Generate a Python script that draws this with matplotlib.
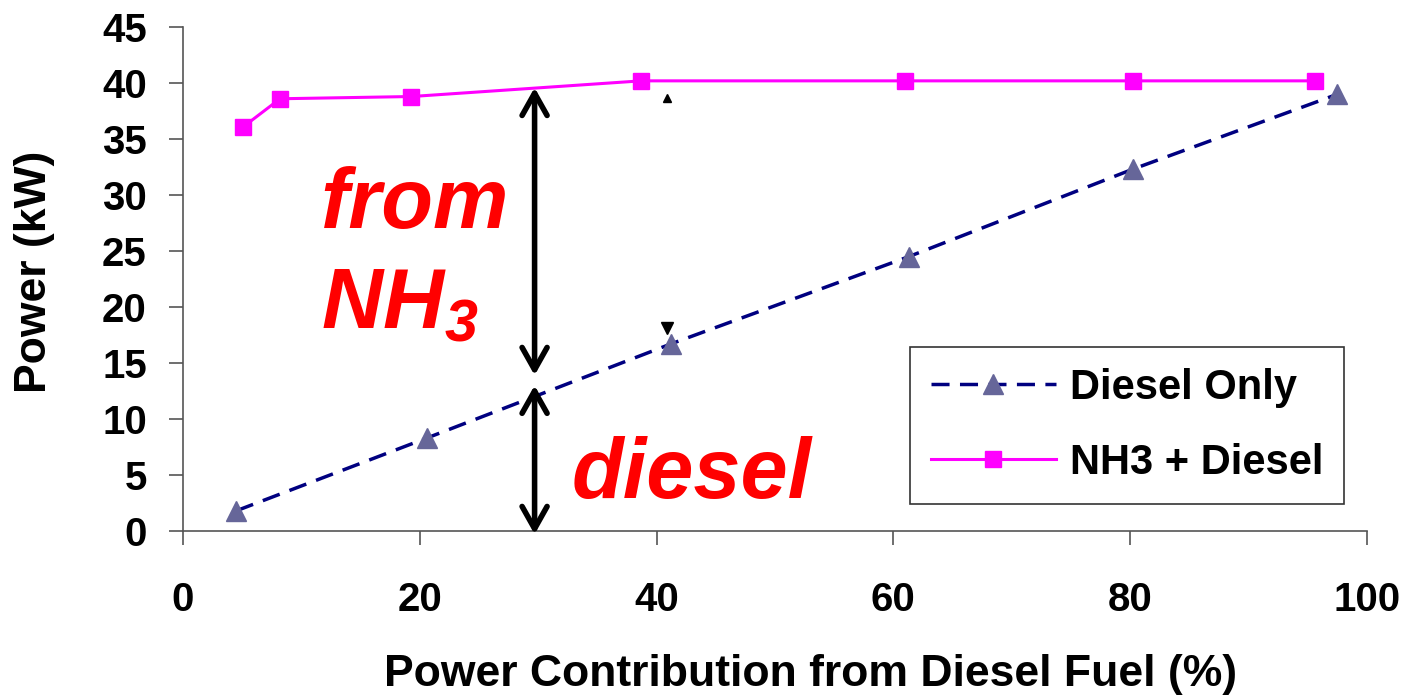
import matplotlib
matplotlib.use('Agg')
import matplotlib.pyplot as plt
from matplotlib import font_manager

# Diesel-only engine: power vs. diesel share
diesel_x = [4.5, 20.6, 41.2, 61.3, 80.2, 97.5]
diesel_y = [1.8, 8.3, 16.7, 24.5, 32.3, 39.0]

# Ammonia + diesel dual fuel
nh3_x = [5.1, 8.2, 19.3, 38.7, 61.0, 80.2, 95.6]
nh3_y = [36.1, 38.6, 38.8, 40.2, 40.2, 40.2, 40.2]

# stray arrow tips left over in the chart
tip_x = [40.9, 40.9]
tip_y = [38.7, 18.1]

# double arrows at 30 % diesel share: (x, y_top, y_bottom)
arrow_x = 29.7
nh3_span = (39.6, 13.9)
diesel_span = (13.0, -0.3)

xticks = [0, 20, 40, 60, 80, 100]
yticks = [0, 5, 10, 15, 20, 25, 30, 35, 40, 45]

names = {f.name for f in font_manager.fontManager.ttflist}
FONT = 'Liberation Sans' if 'Liberation Sans' in names else 'DejaVu Sans'
plt.rcParams['font.family'] = FONT
plt.rcParams['mathtext.fontset'] = 'custom'
plt.rcParams['mathtext.rm'] = FONT + ':bold:italic'
plt.rcParams['mathtext.it'] = FONT + ':bold:italic'

fig = plt.figure(figsize=(14.04, 6.95), dpi=100)
ax = fig.add_axes([0.1303, 0.236, 0.8433, 0.725])

ax.plot(diesel_x, diesel_y, color='#000080', lw=2.5, dashes=(5.2, 3.0),
        marker='^', markersize=14, markerfacecolor='#666699',
        markeredgecolor='#666699', label='Diesel Only', zorder=3)
ax.plot(nh3_x, nh3_y, color='#FF00FF', lw=2.2, marker='s', markersize=12,
        markerfacecolor='#FF00FF', markeredgecolor='#FF00FF',
        label='NH3 + Diesel', zorder=3)

ax.plot(tip_x[:1], tip_y[:1], '^', color='black', markersize=6)
ax.plot(tip_x[1:], tip_y[1:], 'v', color='black', markersize=9)

for top, bot in (nh3_span, diesel_span):
    ax.annotate('', xy=(arrow_x, top), xytext=(arrow_x, bot),
                arrowprops=dict(arrowstyle='<->,head_length=0.8,head_width=0.45',
                                lw=4, color='black', mutation_scale=20,
                                shrinkA=0, shrinkB=0),
                annotation_clip=False, zorder=4)

red = dict(color='#FF0000', fontsize=61, fontweight='bold', style='italic',
           ha='left', va='baseline')
ax.text(11.65, 27.1, 'from', **red)
ax.text(11.65, 18.1, r'$\mathrm{NH}_3$', **red)
ax.text(32.85, 2.96, 'diesel', **red)

ax.set_xlim(0, 100)
ax.set_ylim(0, 45)
ax.set_xticks(xticks)
ax.set_yticks(yticks)
ax.spines['top'].set_visible(False)
ax.spines['right'].set_visible(False)
for s in ('left', 'bottom'):
    ax.spines[s].set_color('#555555')
    ax.spines[s].set_linewidth(1.2)
ax.tick_params(axis='both', direction='out', length=10, width=1.2,
               color='#555555', labelsize=29)
ax.tick_params(axis='x', pad=26)
ax.tick_params(axis='y', pad=16)
for lab in ax.get_xticklabels() + ax.get_yticklabels():
    lab.set_fontweight('bold')

ax.set_xlabel('Power Contribution from Diesel Fuel (%)', fontsize=32,
              fontweight='bold')
ax.xaxis.set_label_coords(0.53, -0.244)
ax.set_ylabel('Power (kW)', fontsize=32, fontweight='bold')
ax.yaxis.set_label_coords(-0.108, 0.515)

leg = ax.legend(loc='lower right', bbox_to_anchor=(0.981, 0.054),
                prop={'weight': 'bold', 'size': 30},
                frameon=True, fancybox=False, edgecolor='black',
                handlelength=3.0, handletextpad=0.35, labelspacing=0.85,
                borderpad=0.5, borderaxespad=0)
leg.get_frame().set_linewidth(1.2)

fig.savefig('out.png', dpi=100)
